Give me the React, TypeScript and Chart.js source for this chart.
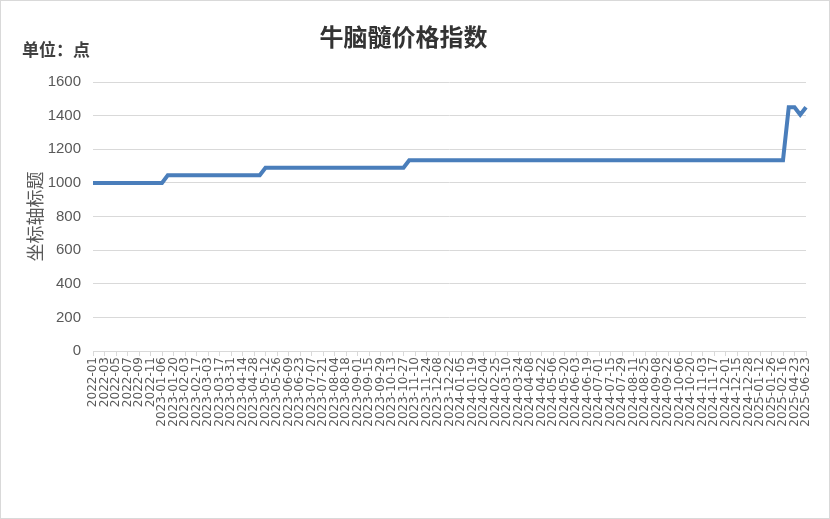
import { useEffect, useRef } from "react";
import { Chart, registerables } from "chart.js";

Chart.register(...registerables);

const titleText = "牛脑髓价格指数";
const unitText = "单位：点";
const axisTitle = "坐标轴标题";

const dates2022 = ["2022-01", "2022-02", "2022-03", "2022-04", "2022-05", "2022-06", "2022-07", "2022-08", "2022-09", "2022-10", "2022-11", "2022-12"];

const dates2023 = [
  "2023-01-06", "2023-01-13", "2023-01-20", "2023-01-27", "2023-02-03", "2023-02-10", "2023-02-17", "2023-02-24",
  "2023-03-03", "2023-03-10", "2023-03-17", "2023-03-24", "2023-03-31", "2023-04-07", "2023-04-14", "2023-04-21",
  "2023-04-28", "2023-05-05", "2023-05-12", "2023-05-19", "2023-05-26", "2023-06-02", "2023-06-09", "2023-06-16",
  "2023-06-23", "2023-06-30", "2023-07-07", "2023-07-14", "2023-07-21", "2023-07-28", "2023-08-04", "2023-08-11",
  "2023-08-18", "2023-08-25", "2023-09-01", "2023-09-08", "2023-09-15", "2023-09-22", "2023-09-29", "2023-10-06",
  "2023-10-13", "2023-10-20", "2023-10-27", "2023-11-03", "2023-11-10", "2023-11-17", "2023-11-24", "2023-12-01",
  "2023-12-08", "2023-12-15", "2023-12-22", "2023-12-29",
];

const dates2024 = [
  "2024-01-05", "2024-01-12", "2024-01-19", "2024-01-26", "2024-02-04", "2024-02-18", "2024-02-25", "2024-03-03",
  "2024-03-10", "2024-03-17", "2024-03-24", "2024-03-31", "2024-04-08", "2024-04-15", "2024-04-22", "2024-04-29",
  "2024-05-06", "2024-05-13", "2024-05-20", "2024-05-27", "2024-06-03", "2024-06-10", "2024-06-19", "2024-06-24",
  "2024-07-01", "2024-07-08", "2024-07-15", "2024-07-22", "2024-07-29", "2024-08-04", "2024-08-11", "2024-08-18",
  "2024-08-25", "2024-09-01", "2024-09-08", "2024-09-15", "2024-09-22", "2024-09-29", "2024-10-06", "2024-10-13",
  "2024-10-20", "2024-10-27", "2024-11-03", "2024-11-10", "2024-11-17", "2024-11-24", "2024-12-01", "2024-12-08",
  "2024-12-15", "2024-12-22", "2024-12-28",
];

const dates2025 = ["2025-01-05", "2025-01-12", "2025-01-19", "2025-01-26", "2025-02-09", "2025-02-16", "2025-03-20", "2025-04-23", "2025-05-23", "2025-06-23"];

const labels = [...dates2022, ...dates2023, ...dates2024, ...dates2025];

// index values
const values2022 = [1000, 1000, 1000, 1000, 1000, 1000, 1000, 1000, 1000, 1000, 1000, 1000];

const values2023 = [
  1000, 1045, 1045, 1045, 1045, 1045, 1045, 1045,
  1045, 1045, 1045, 1045, 1045, 1045, 1045, 1045,
  1045, 1045, 1090, 1090, 1090, 1090, 1090, 1090,
  1090, 1090, 1090, 1090, 1090, 1090, 1090, 1090,
  1090, 1090, 1090, 1090, 1090, 1090, 1090, 1090,
  1090, 1090, 1090, 1135, 1135, 1135, 1135, 1135,
  1135, 1135, 1135, 1135,
];

const values2024 = [
  1135, 1135, 1135, 1135, 1135, 1135, 1135, 1135,
  1135, 1135, 1135, 1135, 1135, 1135, 1135, 1135,
  1135, 1135, 1135, 1135, 1135, 1135, 1135, 1135,
  1135, 1135, 1135, 1135, 1135, 1135, 1135, 1135,
  1135, 1135, 1135, 1135, 1135, 1135, 1135, 1135,
  1135, 1135, 1135, 1135, 1135, 1135, 1135, 1135,
  1135, 1135, 1135,
];

const values2025 = [1135, 1135, 1135, 1135, 1135, 1135, 1450, 1450, 1405, 1450];

const values = [...values2022, ...values2023, ...values2024, ...values2025];

const yMin = 0;
const yMax = 1600;
const yStep = 200;

const unitLabel = {
  id: "unitLabel",
  afterDraw(chart: any) {
    const ctx = chart.ctx;
    ctx.save();
    ctx.font = "bold 17px 'Noto Sans CJK SC'";
    ctx.fillStyle = "#404040";
    ctx.textAlign = "left";
    ctx.textBaseline = "middle";
    ctx.fillText(unitText, 21, 49);
    ctx.restore();
  },
};

export default function App() {
  const canvasRef = useRef<HTMLCanvasElement>(null);
  const chartRef = useRef<any>(null);

  useEffect(() => {
    document.body.style.margin = "0";
    if (!canvasRef.current) return;
    const ctx = canvasRef.current.getContext("2d");
    if (!ctx) return;
    if (chartRef.current) chartRef.current.destroy();

    chartRef.current = new Chart(ctx, {
      type: "line",
      data: {
        labels,
        datasets: [
          {
            label: titleText,
            data: values,
            borderColor: "#4a7ebb",
            borderWidth: 4,
            pointRadius: 0,
            tension: 0,
            fill: false,
          },
        ],
      },
      options: {
        responsive: true,
        maintainAspectRatio: false,
        animation: false,
        layout: { padding: { top: 0, left: 0, right: 23, bottom: 0 } },
        scales: {
          x: {
            offset: false,
            border: { display: true, color: "#d9d9d9" },
            grid: {
              drawOnChartArea: false,
              drawTicks: true,
              tickLength: 5,
              color: (c: any) => (c.index % 2 === 0 ? "#d9d9d9" : "rgba(0,0,0,0)"),
            },
            ticks: {
              autoSkip: false,
              minRotation: 90,
              maxRotation: 90,
              padding: 1,
              color: "#595959",
              font: { family: "'DejaVu Sans'", size: 12 },
              callback: (_v: any, i: number) => (i % 2 === 0 ? labels[i] : ""),
            },
            afterFit: (s: any) => {
              s.height = 167;
            },
          },
          y: {
            min: yMin,
            max: yMax,
            border: { display: false },
            grid: { color: "#d9d9d9", drawTicks: false },
            ticks: {
              stepSize: yStep,
              padding: 12,
              color: "#595959",
              font: { family: "'Liberation Sans'", size: 15 },
              callback: (v: any) => String(v),
            },
            title: {
              display: true,
              text: axisTitle,
              color: "#595959",
              padding: { top: 23, bottom: 0 },
              font: { family: "'Noto Sans CJK SC'", size: 18, lineHeight: 1.2 },
            },
            afterFit: (s: any) => {
              s.width = 92;
            },
          },
        },
        plugins: {
          legend: { display: false },
          tooltip: { enabled: false },
          title: {
            display: true,
            text: titleText,
            color: "#333333",
            padding: { top: 21.6, bottom: 30.6 },
            font: { family: "'Noto Sans CJK SC'", size: 24, weight: "bold", lineHeight: 1.2 },
          },
        },
      },
      plugins: [unitLabel],
    });

    return () => chartRef.current?.destroy();
  }, []);

  return (
    <div
      style={{
        position: "absolute",
        left: 0,
        top: 0,
        width: 830,
        height: 519,
        border: "1px solid #d9d9d9",
        boxSizing: "border-box",
        background: "#fff",
      }}
    >
      <div style={{ position: "relative", width: 828, height: 517 }}>
        <canvas ref={canvasRef} />
      </div>
    </div>
  );
}
